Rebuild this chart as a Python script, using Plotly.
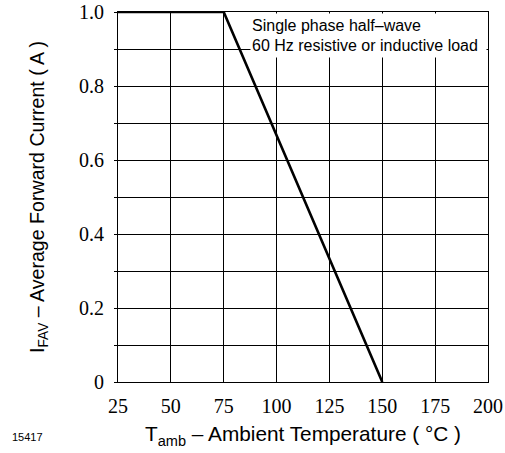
import plotly.graph_objects as go

temps = [25, 75, 150]
current = [1.0, 1.0, 0.0]

x_ticks = [25, 50, 75, 100, 125, 150, 175, 200]
y_grid = [0, 0.1, 0.2, 0.3, 0.4, 0.5, 0.6, 0.7, 0.8, 0.9, 1.0]
y_labels = ["0", " ", "0.2", " ", "0.4", " ", "0.6", " ", "0.8", " ", "1.0"]

fig = go.Figure()
fig.add_trace(go.Scatter(x=temps, y=current, mode="lines",
                         line=dict(color="black", width=2.6), showlegend=False))

serif = "Times New Roman, Liberation Serif, serif"
sans = "Arial, Liberation Sans, sans-serif"

fig.update_xaxes(range=[25, 200], tickvals=x_ticks, ticktext=[str(v) for v in x_ticks],
                 showgrid=True, gridcolor="black", gridwidth=1,
                 showline=True, linecolor="black", linewidth=1.2, mirror=True,
                 ticks="", zeroline=False, ticklabelstandoff=6, automargin=False,
                 tickfont=dict(family=serif, size=20, color="black"),
                 title=dict(text="T<sub>amb</sub> – Ambient Temperature ( °C )",
                            font=dict(family=sans, size=20.8, color="black"), standoff=10))
fig.update_yaxes(range=[0, 1.0], tickvals=y_grid, ticktext=y_labels,
                 showgrid=True, gridcolor="black", gridwidth=1,
                 showline=True, linecolor="black", linewidth=1.2, mirror=True,
                 ticks="outside", ticklen=3, tickcolor="black", zeroline=False,
                 ticklabelstandoff=6, automargin=False,
                 tickfont=dict(family=serif, size=20, color="black"),
                 title=dict(text="I<sub>FAV</sub> – Average Forward Current ( A )",
                            font=dict(family=sans, size=19.6, color="black"), standoff=29))

fig.add_annotation(x=87.4, y=0.997, xref="x", yref="y", xanchor="left", yanchor="top",
                   text="Single phase half–wave<br>60 Hz resistive or inductive load",
                   showarrow=False, align="left", valign="middle", bgcolor="white",
                   width=233, height=41, borderpad=1,
                   font=dict(family=sans, size=16, color="black"))
fig.add_annotation(x=-108/370, y=-(437-382)/370, xref="paper", yref="paper", text="15417",
                   showarrow=False, xanchor="left", yanchor="middle",
                   font=dict(family=sans, size=11, color="black"))

fig.update_layout(width=505, height=453, margin=dict(l=118, r=17, t=12, b=71),
                  paper_bgcolor="white", plot_bgcolor="white")
fig.write_html("out.html", config={"displayModeBar": False},
               post_script="document.body.style.margin='0px';document.body.style.overflow='hidden';")
